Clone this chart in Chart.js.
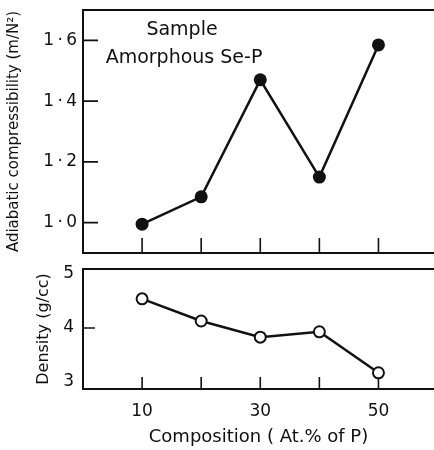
<!DOCTYPE html>
<html>
<head>
<meta charset="utf-8">
<script src="https://cdn.jsdelivr.net/npm/chart.js@4/dist/chart.umd.min.js"></script>
<style>
  html, body { margin: 0; padding: 0; background: #fff; overflow: hidden; }
  #wrap { position: relative; width: 434px; height: 450px; }
  canvas { position: absolute; left: 0; }
  #top { top: 0; }
  #bottom { top: 262px; }
</style>
</head>
<body>
<div id="wrap">
  <canvas id="top" width="434" height="262"></canvas>
  <canvas id="bottom" width="434" height="188"></canvas>
</div>
<script>
// ---- data ----
const composition = [10, 20, 30, 40, 50];            // At.% of P
const compressibility = [0.995, 1.085, 1.47, 1.15, 1.585];
const density = [4.54, 4.13, 3.83, 3.93, 3.17];      // g/cc

const compTicks = [1.0, 1.2, 1.4, 1.6];
const compTickLabels = ['1\u2009·\u20090', '1\u2009·\u20092', '1\u2009·\u20094', '1\u2009·\u20096'];
const densityTicks = [3, 4, 5];
const densityTickMarks = [4];
const compositionTickMarks = [10, 20, 30, 40, 50];
const compositionLabels = [10, 30, 50];

const FONT = 'DejaVu Sans';
const INK = '#111';

function frameAndTicks(xMarks, yMarks, tickLen) {
  return {
    id: 'frameAndTicks',
    beforeDatasetsDraw(chart) {
      const {ctx, chartArea: a, scales} = chart;
      ctx.save();
      ctx.strokeStyle = INK;
      ctx.lineWidth = 2;
      ctx.beginPath();
      ctx.moveTo(a.right + 2, a.top);
      ctx.lineTo(a.left, a.top);
      ctx.lineTo(a.left, a.bottom);
      ctx.lineTo(a.right + 2, a.bottom);
      ctx.stroke();
      ctx.lineWidth = 1.6;
      ctx.beginPath();
      xMarks.forEach(v => {
        const x = scales.x.getPixelForValue(v);
        ctx.moveTo(x, a.bottom);
        ctx.lineTo(x, a.bottom - tickLen);
      });
      yMarks.forEach(v => {
        const y = scales.y.getPixelForValue(v);
        ctx.moveTo(a.left, y);
        ctx.lineTo(a.left + tickLen, y);
      });
      ctx.stroke();
      ctx.restore();
    }
  };
}

const annotation = {
  id: 'annotation',
  afterDraw(chart) {
    const {ctx} = chart;
    ctx.save();
    ctx.fillStyle = INK;
    ctx.font = '19px "' + FONT + '"';
    ctx.textAlign = 'center';
    ctx.textBaseline = 'middle';
    ctx.fillText('Sample', 182, 30);
    ctx.fillText('Amorphous Se-P', 184, 58);
    ctx.restore();
  }
};

function xy(xs, ys) { return xs.map((x, i) => ({x, y: ys[i]})); }
function fixWidth(w) {
  return s => { s.width = w; s.paddingTop = 0; s.paddingBottom = 0; };
}

new Chart(document.getElementById('top'), {
  type: 'line',
  data: {
    datasets: [{
      data: xy(composition, compressibility),
      borderColor: INK,
      borderWidth: 2.5,
      backgroundColor: INK,
      pointBackgroundColor: INK,
      pointBorderColor: INK,
      pointRadius: 6.5,
      pointBorderWidth: 0,
      tension: 0,
      clip: false
    }]
  },
  options: {
    responsive: false,
    animation: false,
    devicePixelRatio: 1,
    layout: { autoPadding: false, padding: { top: 10, bottom: 9, left: 0, right: 0 } },
    plugins: { legend: { display: false }, tooltip: { enabled: false } },
    scales: {
      x: { type: 'linear', min: 0, max: 59.4, display: false },
      y: {
        type: 'linear', min: 0.9, max: 1.7,
        afterBuildTicks: s => { s.ticks = compTicks.map(v => ({value: v})); },
        afterFit: fixWidth(83),
        grid: { display: false, drawTicks: false },
        border: { display: false },
        ticks: {
          color: INK, padding: 6,
          font: { family: FONT, size: 17 },
          callback: v => compTickLabels[compTicks.indexOf(v)]
        },
        title: {
          display: true, text: 'Adiabatic compressibility (m/N²)',
          color: INK, font: { family: FONT, size: 15 },
          padding: { top: 5, bottom: 0 }
        }
      }
    }
  },
  plugins: [frameAndTicks(compositionTickMarks, compTicks, 15), annotation]
});

new Chart(document.getElementById('bottom'), {
  type: 'line',
  data: {
    datasets: [{
      data: xy(composition, density),
      borderColor: INK,
      borderWidth: 2.5,
      pointBackgroundColor: '#fff',
      pointBorderColor: INK,
      pointRadius: 5.5,
      pointBorderWidth: 2,
      tension: 0,
      clip: false
    }]
  },
  options: {
    responsive: false,
    animation: false,
    devicePixelRatio: 1,
    layout: { autoPadding: false, padding: { top: 7, bottom: 0, left: 29, right: 0 } },
    plugins: { legend: { display: false }, tooltip: { enabled: false } },
    scales: {
      x: {
        type: 'linear', min: 0, max: 59.4,
        afterBuildTicks: s => { s.ticks = compositionLabels.map(v => ({value: v})); },
        afterFit: s => { s.height = 61; s.paddingLeft = 0; s.paddingRight = 0; },
        grid: { display: false, drawTicks: false },
        border: { display: false },
        ticks: { color: INK, padding: 12, maxRotation: 0, font: { family: FONT, size: 17 } },
        title: {
          display: true, text: 'Composition ( At.% of P)',
          color: INK, font: { family: FONT, size: 18 },
          padding: { top: 0, bottom: 2 }
        }
      },
      y: {
        type: 'linear', min: 2.87, max: 5.093,
        afterBuildTicks: s => { s.ticks = densityTicks.map(v => ({value: v})); },
        afterFit: fixWidth(54),
        grid: { display: false, drawTicks: false },
        border: { display: false },
        ticks: { color: INK, padding: 9, font: { family: FONT, size: 17 } },
        title: {
          display: true, text: 'Density (g/cc)',
          color: INK, font: { family: FONT, size: 16 },
          padding: { top: 5, bottom: 0 }
        }
      }
    }
  },
  plugins: [frameAndTicks(compositionTickMarks, densityTickMarks, 12)]
});
</script>
</body>
</html>
